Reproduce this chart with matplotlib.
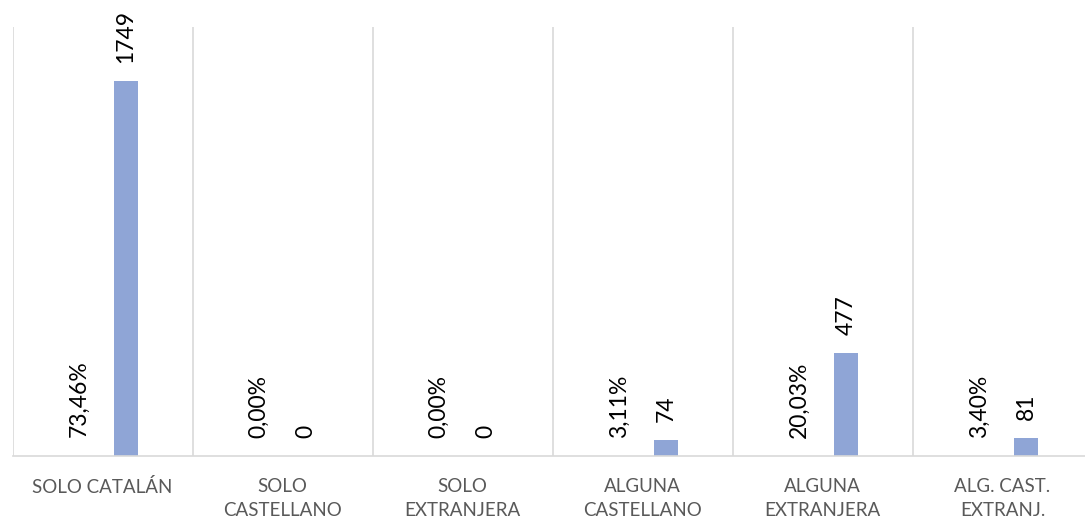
import matplotlib.pyplot as plt
import numpy as np

plt.rcParams['font.family'] = ['Lato', 'DejaVu Sans']

categorias = ['SOLO CATALÁN', 'SOLO\nCASTELLANO', 'SOLO\nEXTRANJERA',
              'ALGUNA\nCASTELLANO', 'ALGUNA\nEXTRANJERA', 'ALG. CAST.\nEXTRANJ.']
porcentaje = [73.46, 0.00, 0.00, 3.11, 20.03, 3.40]
alumnos = [1749, 0, 0, 74, 477, 81]

fig = plt.figure(figsize=(10.85, 5.17), dpi=100)
# el area de dibujo se sale un poco por la derecha, como en el original
ax = fig.add_axes([12.5/1085, 1 - 455.7/517, 1080/1085, (455.7-27)/517])

x = np.arange(len(categorias))
w = 0.133
off = 0.13

ax.bar(x - off, [p/100 for p in porcentaje], w, color='#A5A5A5')
ax.bar(x + off, alumnos, w, color='#8FA5D6')

for i in range(len(categorias)):
    ax.annotate(f'{porcentaje[i]:.2f}%'.replace('.', ','), (x[i] - off, porcentaje[i]/100),
                xytext=(0, 13), textcoords='offset points', rotation=90,
                ha='center', va='bottom', fontsize=16.5, color='black')
    ax.annotate(str(alumnos[i]), (x[i] + off, alumnos[i]),
                xytext=(0, 13), textcoords='offset points', rotation=90,
                ha='center', va='bottom', fontsize=16.5, color='black')

ax.set_xlim(-0.5, len(categorias) - 0.5)
ax.set_ylim(0, 2000)
ax.set_yticks([])
ax.set_xticks(x)
ax.set_xticklabels(categorias, fontsize=13.5, color='#595959', linespacing=1.5)
ax.tick_params(axis='x', length=0, pad=16)

# lineas verticales entre categorias
for b in np.arange(-0.5, len(categorias) + 0.5, 1):
    ax.axvline(b, color='#D9D9D9', lw=1.2, zorder=0)

for s in ['top', 'right', 'left']:
    ax.spines[s].set_visible(False)
ax.spines['bottom'].set_color('#D9D9D9')
ax.spines['bottom'].set_linewidth(1.2)

fig.savefig('out.png', dpi=100)
